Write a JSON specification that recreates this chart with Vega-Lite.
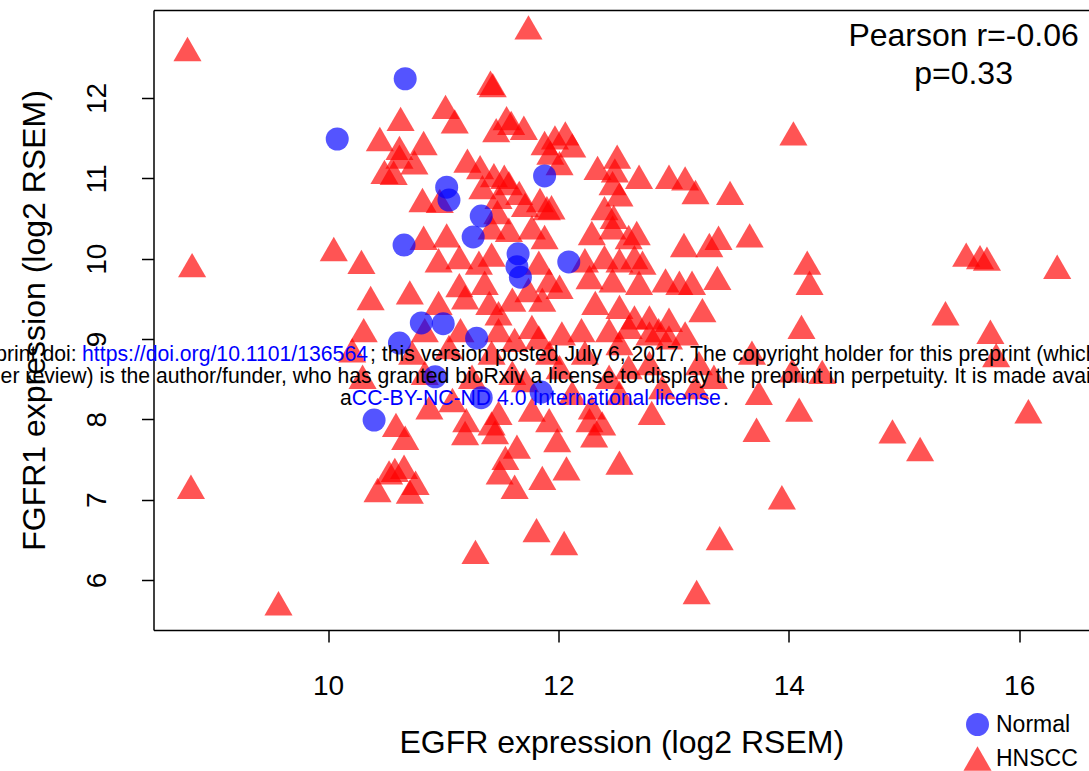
{
  "$schema": "https://vega.github.io/schema/vega-lite/v6.json",
  "width": 935.5,
  "height": 620,
  "autosize": {"type": "none"},
  "padding": {"left": 153.5, "top": 10, "right": 0, "bottom": 141},
  "background": "white",
  "config": {"view": {"stroke": null}, "font": "Liberation Sans"},
  "datasets": {
    "pts": [
      {"type":"HNSCC","egfr":8.78,"fgfr1":12.61},{"type":"HNSCC","egfr":8.82,"fgfr1":9.92},{"type":"HNSCC","egfr":8.81,"fgfr1":7.16},{"type":"HNSCC","egfr":9.57,"fgfr1":5.71},
      {"type":"HNSCC","egfr":10.05,"fgfr1":10.12},{"type":"HNSCC","egfr":10.29,"fgfr1":9.96},{"type":"HNSCC","egfr":10.37,"fgfr1":9.51},{"type":"HNSCC","egfr":10.31,"fgfr1":9.11},
      {"type":"HNSCC","egfr":10.45,"fgfr1":11.49},{"type":"HNSCC","egfr":10.49,"fgfr1":11.08},{"type":"HNSCC","egfr":10.63,"fgfr1":11.74},{"type":"HNSCC","egfr":10.62,"fgfr1":11.38},
      {"type":"HNSCC","egfr":10.83,"fgfr1":11.44},{"type":"HNSCC","egfr":10.75,"fgfr1":11.20},{"type":"HNSCC","egfr":10.62,"fgfr1":11.27},{"type":"HNSCC","egfr":10.57,"fgfr1":11.07},
      {"type":"HNSCC","egfr":10.82,"fgfr1":10.73},{"type":"HNSCC","egfr":11.02,"fgfr1":11.89},{"type":"HNSCC","egfr":11.10,"fgfr1":11.71},{"type":"HNSCC","egfr":11.41,"fgfr1":12.19},
      {"type":"HNSCC","egfr":11.43,"fgfr1":12.16},{"type":"HNSCC","egfr":11.74,"fgfr1":12.88},{"type":"HNSCC","egfr":11.55,"fgfr1":11.75},{"type":"HNSCC","egfr":11.59,"fgfr1":11.69},
      {"type":"HNSCC","egfr":11.46,"fgfr1":11.60},{"type":"HNSCC","egfr":11.70,"fgfr1":11.63},{"type":"HNSCC","egfr":11.88,"fgfr1":11.44},{"type":"HNSCC","egfr":11.93,"fgfr1":11.32},
      {"type":"HNSCC","egfr":11.21,"fgfr1":11.22},{"type":"HNSCC","egfr":11.32,"fgfr1":11.14},{"type":"HNSCC","egfr":11.44,"fgfr1":11.04},{"type":"HNSCC","egfr":11.53,"fgfr1":11.02},
      {"type":"HNSCC","egfr":11.34,"fgfr1":10.89},{"type":"HNSCC","egfr":11.57,"fgfr1":10.94},{"type":"HNSCC","egfr":11.48,"fgfr1":10.77},{"type":"HNSCC","egfr":11.66,"fgfr1":10.82},
      {"type":"HNSCC","egfr":11.71,"fgfr1":10.67},{"type":"HNSCC","egfr":11.84,"fgfr1":10.73},{"type":"HNSCC","egfr":11.90,"fgfr1":10.63},{"type":"HNSCC","egfr":11.47,"fgfr1":10.58},
      {"type":"HNSCC","egfr":11.97,"fgfr1":11.51},{"type":"HNSCC","egfr":12.06,"fgfr1":11.56},{"type":"HNSCC","egfr":12.12,"fgfr1":11.41},{"type":"HNSCC","egfr":12.01,"fgfr1":11.19},
      {"type":"HNSCC","egfr":12.34,"fgfr1":11.13},{"type":"HNSCC","egfr":12.51,"fgfr1":11.27},{"type":"HNSCC","egfr":12.49,"fgfr1":11.10},{"type":"HNSCC","egfr":12.47,"fgfr1":10.94},
      {"type":"HNSCC","egfr":12.53,"fgfr1":10.80},{"type":"HNSCC","egfr":12.70,"fgfr1":11.02},{"type":"HNSCC","egfr":12.96,"fgfr1":11.02},{"type":"HNSCC","egfr":13.10,"fgfr1":11.00},
      {"type":"HNSCC","egfr":13.19,"fgfr1":10.83},{"type":"HNSCC","egfr":12.40,"fgfr1":10.63},{"type":"HNSCC","egfr":12.48,"fgfr1":10.52},{"type":"HNSCC","egfr":11.94,"fgfr1":10.64},
      {"type":"HNSCC","egfr":14.04,"fgfr1":11.56},{"type":"HNSCC","egfr":13.49,"fgfr1":10.82},{"type":"HNSCC","egfr":10.97,"fgfr1":10.72},
      {"type":"HNSCC","egfr":10.83,"fgfr1":10.26},{"type":"HNSCC","egfr":11.03,"fgfr1":10.29},{"type":"HNSCC","egfr":11.42,"fgfr1":10.39},{"type":"HNSCC","egfr":11.57,"fgfr1":10.36},
      {"type":"HNSCC","egfr":11.77,"fgfr1":10.39},{"type":"HNSCC","egfr":11.88,"fgfr1":10.27},{"type":"HNSCC","egfr":10.96,"fgfr1":9.98},{"type":"HNSCC","egfr":11.14,"fgfr1":10.02},
      {"type":"HNSCC","egfr":11.31,"fgfr1":9.95},{"type":"HNSCC","egfr":11.42,"fgfr1":10.05},{"type":"HNSCC","egfr":11.83,"fgfr1":9.95},{"type":"HNSCC","egfr":10.71,"fgfr1":9.58},
      {"type":"HNSCC","egfr":10.96,"fgfr1":9.45},{"type":"HNSCC","egfr":11.14,"fgfr1":9.67},{"type":"HNSCC","egfr":11.19,"fgfr1":9.52},{"type":"HNSCC","egfr":11.36,"fgfr1":9.70},
      {"type":"HNSCC","egfr":11.40,"fgfr1":9.45},{"type":"HNSCC","egfr":11.48,"fgfr1":9.32},{"type":"HNSCC","egfr":11.60,"fgfr1":9.49},{"type":"HNSCC","egfr":11.74,"fgfr1":9.61},
      {"type":"HNSCC","egfr":11.86,"fgfr1":9.49},{"type":"HNSCC","egfr":11.92,"fgfr1":9.73},{"type":"HNSCC","egfr":10.84,"fgfr1":9.11},{"type":"HNSCC","egfr":11.15,"fgfr1":9.11},
      {"type":"HNSCC","egfr":11.48,"fgfr1":9.11},{"type":"HNSCC","egfr":11.62,"fgfr1":8.99},{"type":"HNSCC","egfr":11.77,"fgfr1":9.15},{"type":"HNSCC","egfr":11.83,"fgfr1":9.02},
      {"type":"HNSCC","egfr":11.05,"fgfr1":8.90},{"type":"HNSCC","egfr":10.73,"fgfr1":8.83},{"type":"HNSCC","egfr":11.42,"fgfr1":8.83},{"type":"HNSCC","egfr":11.92,"fgfr1":8.83},
      {"type":"HNSCC","egfr":10.84,"fgfr1":8.58},{"type":"HNSCC","egfr":11.25,"fgfr1":8.53},{"type":"HNSCC","egfr":11.60,"fgfr1":8.58},{"type":"HNSCC","egfr":11.71,"fgfr1":8.49},
      {"type":"HNSCC","egfr":10.88,"fgfr1":8.15},{"type":"HNSCC","egfr":11.08,"fgfr1":8.24},{"type":"HNSCC","egfr":11.48,"fgfr1":8.08},{"type":"HNSCC","egfr":11.77,"fgfr1":8.12},
      {"type":"HNSCC","egfr":11.92,"fgfr1":7.99},{"type":"HNSCC","egfr":11.42,"fgfr1":7.95},
      {"type":"HNSCC","egfr":12.29,"fgfr1":10.32},{"type":"HNSCC","egfr":12.47,"fgfr1":10.39},{"type":"HNSCC","egfr":12.61,"fgfr1":10.27},{"type":"HNSCC","egfr":12.68,"fgfr1":10.32},
      {"type":"HNSCC","egfr":13.09,"fgfr1":10.17},{"type":"HNSCC","egfr":13.31,"fgfr1":10.17},{"type":"HNSCC","egfr":12.23,"fgfr1":9.98},{"type":"HNSCC","egfr":12.40,"fgfr1":10.02},
      {"type":"HNSCC","egfr":12.53,"fgfr1":9.98},{"type":"HNSCC","egfr":12.66,"fgfr1":10.02},{"type":"HNSCC","egfr":12.73,"fgfr1":9.95},{"type":"HNSCC","egfr":12.93,"fgfr1":9.73},
      {"type":"HNSCC","egfr":13.05,"fgfr1":9.70},{"type":"HNSCC","egfr":13.16,"fgfr1":9.70},{"type":"HNSCC","egfr":12.70,"fgfr1":9.70},{"type":"HNSCC","egfr":12.47,"fgfr1":9.73},
      {"type":"HNSCC","egfr":12.27,"fgfr1":9.77},{"type":"HNSCC","egfr":12.01,"fgfr1":9.65},{"type":"HNSCC","egfr":12.32,"fgfr1":9.45},{"type":"HNSCC","egfr":12.53,"fgfr1":9.40},
      {"type":"HNSCC","egfr":12.66,"fgfr1":9.27},{"type":"HNSCC","egfr":12.79,"fgfr1":9.27},{"type":"HNSCC","egfr":12.96,"fgfr1":9.24},{"type":"HNSCC","egfr":13.25,"fgfr1":9.36},
      {"type":"HNSCC","egfr":12.03,"fgfr1":9.07},{"type":"HNSCC","egfr":12.20,"fgfr1":9.11},{"type":"HNSCC","egfr":12.44,"fgfr1":9.11},{"type":"HNSCC","egfr":12.61,"fgfr1":9.15},
      {"type":"HNSCC","egfr":12.79,"fgfr1":9.07},{"type":"HNSCC","egfr":12.87,"fgfr1":9.11},{"type":"HNSCC","egfr":12.96,"fgfr1":9.02},{"type":"HNSCC","egfr":13.10,"fgfr1":9.07},
      {"type":"HNSCC","egfr":12.53,"fgfr1":8.95},{"type":"HNSCC","egfr":12.23,"fgfr1":8.83},{"type":"HNSCC","egfr":12.61,"fgfr1":8.65},{"type":"HNSCC","egfr":12.79,"fgfr1":8.70},
      {"type":"HNSCC","egfr":13.22,"fgfr1":8.70},{"type":"HNSCC","egfr":12.01,"fgfr1":8.65},{"type":"HNSCC","egfr":12.44,"fgfr1":8.53},{"type":"HNSCC","egfr":12.12,"fgfr1":8.33},
      {"type":"HNSCC","egfr":12.53,"fgfr1":8.33},{"type":"HNSCC","egfr":12.90,"fgfr1":8.40},{"type":"HNSCC","egfr":13.19,"fgfr1":8.40},{"type":"HNSCC","egfr":12.29,"fgfr1":8.15},
      {"type":"HNSCC","egfr":12.81,"fgfr1":8.08},{"type":"HNSCC","egfr":12.27,"fgfr1":7.99},{"type":"HNSCC","egfr":12.38,"fgfr1":7.95},
      {"type":"HNSCC","egfr":13.39,"fgfr1":10.26},{"type":"HNSCC","egfr":13.66,"fgfr1":10.29},{"type":"HNSCC","egfr":14.16,"fgfr1":9.95},{"type":"HNSCC","egfr":14.18,"fgfr1":9.70},
      {"type":"HNSCC","egfr":13.38,"fgfr1":9.76},{"type":"HNSCC","egfr":14.11,"fgfr1":9.15},{"type":"HNSCC","egfr":13.68,"fgfr1":8.83},{"type":"HNSCC","egfr":14.03,"fgfr1":8.61},
      {"type":"HNSCC","egfr":14.29,"fgfr1":8.59},{"type":"HNSCC","egfr":13.35,"fgfr1":8.53},{"type":"HNSCC","egfr":13.74,"fgfr1":8.33},{"type":"HNSCC","egfr":14.09,"fgfr1":8.12},
      {"type":"HNSCC","egfr":13.72,"fgfr1":7.87},{"type":"HNSCC","egfr":13.94,"fgfr1":7.03},{"type":"HNSCC","egfr":13.40,"fgfr1":6.52},
      {"type":"HNSCC","egfr":12.31,"fgfr1":7.80},{"type":"HNSCC","egfr":11.99,"fgfr1":7.74},{"type":"HNSCC","egfr":12.07,"fgfr1":7.39},{"type":"HNSCC","egfr":12.53,"fgfr1":7.46},
      {"type":"HNSCC","egfr":12.05,"fgfr1":6.46},{"type":"HNSCC","egfr":13.20,"fgfr1":5.85},
      {"type":"HNSCC","egfr":11.19,"fgfr1":7.83},{"type":"HNSCC","egfr":11.45,"fgfr1":7.84},{"type":"HNSCC","egfr":10.67,"fgfr1":7.77},{"type":"HNSCC","egfr":11.64,"fgfr1":7.66},
      {"type":"HNSCC","egfr":11.54,"fgfr1":7.52},{"type":"HNSCC","egfr":11.49,"fgfr1":7.34},{"type":"HNSCC","egfr":11.62,"fgfr1":7.16},{"type":"HNSCC","egfr":11.86,"fgfr1":7.27},
      {"type":"HNSCC","egfr":10.58,"fgfr1":7.37},{"type":"HNSCC","egfr":10.66,"fgfr1":7.41},{"type":"HNSCC","egfr":10.76,"fgfr1":7.21},{"type":"HNSCC","egfr":10.71,"fgfr1":7.10},
      {"type":"HNSCC","egfr":11.81,"fgfr1":6.62},{"type":"HNSCC","egfr":11.28,"fgfr1":6.35},
      {"type":"HNSCC","egfr":10.21,"fgfr1":8.86},{"type":"HNSCC","egfr":10.30,"fgfr1":8.53},{"type":"HNSCC","egfr":10.53,"fgfr1":7.34},{"type":"HNSCC","egfr":10.43,"fgfr1":7.12},
      {"type":"HNSCC","egfr":10.59,"fgfr1":7.93},
      {"type":"HNSCC","egfr":15.54,"fgfr1":10.05},{"type":"HNSCC","egfr":15.66,"fgfr1":10.02},{"type":"HNSCC","egfr":15.72,"fgfr1":10.00},{"type":"HNSCC","egfr":16.33,"fgfr1":9.90},
      {"type":"HNSCC","egfr":15.36,"fgfr1":9.32},{"type":"HNSCC","egfr":15.75,"fgfr1":9.09},{"type":"HNSCC","egfr":15.80,"fgfr1":8.80},{"type":"HNSCC","egfr":16.08,"fgfr1":8.10},
      {"type":"HNSCC","egfr":14.90,"fgfr1":7.85},{"type":"HNSCC","egfr":15.14,"fgfr1":7.63},{"type":"HNSCC","egfr":11.20,"fgfr1":7.99},
      {"type":"Normal","egfr":10.67,"fgfr1":12.24},{"type":"Normal","egfr":10.08,"fgfr1":11.49},{"type":"Normal","egfr":11.03,"fgfr1":10.89},{"type":"Normal","egfr":11.05,"fgfr1":10.73},
      {"type":"Normal","egfr":11.33,"fgfr1":10.53},{"type":"Normal","egfr":11.26,"fgfr1":10.27},{"type":"Normal","egfr":11.88,"fgfr1":11.03},{"type":"Normal","egfr":10.66,"fgfr1":10.17},
      {"type":"Normal","egfr":11.65,"fgfr1":10.06},{"type":"Normal","egfr":11.64,"fgfr1":9.90},{"type":"Normal","egfr":11.67,"fgfr1":9.77},{"type":"Normal","egfr":12.09,"fgfr1":9.96},
      {"type":"Normal","egfr":10.81,"fgfr1":9.20},{"type":"Normal","egfr":11.00,"fgfr1":9.19},{"type":"Normal","egfr":10.62,"fgfr1":8.95},{"type":"Normal","egfr":11.29,"fgfr1":9.01},
      {"type":"Normal","egfr":10.93,"fgfr1":8.53},{"type":"Normal","egfr":11.85,"fgfr1":8.34},{"type":"Normal","egfr":10.40,"fgfr1":7.99},{"type":"Normal","egfr":11.33,"fgfr1":8.27}
    ],
    "notes": [
      {"kind":"center","egfr":15.517,"fgfr1":12.647,"label":"Pearson r=-0.06"},
      {"kind":"center","egfr":15.517,"fgfr1":12.174,"label":"p=0.33"},
      {"kind":"right","egfr":7.817,"fgfr1":8.726,"label":"bioRxiv preprint doi:"},
      {"kind":"blue","egfr":7.865,"fgfr1":8.726,"label":"https://doi.org/10.1101/136564"},
      {"kind":"left","egfr":10.365,"fgfr1":8.726,"label":"; this version posted July 6, 2017. The copyright holder for this preprint (which was not"},
      {"kind":"right","egfr":8.456,"fgfr1":8.452,"label":"certified by peer review) is the"},
      {"kind":"left","egfr":8.507,"fgfr1":8.452,"label":"author/funder, who has granted bioRxiv a license to display the preprint in perpetuity. It is made available under"},
      {"kind":"left","egfr":10.104,"fgfr1":8.178,"label":"a"},
      {"kind":"blue","egfr":10.207,"fgfr1":8.178,"label":"CC-BY-NC-ND 4.0 International license"},
      {"kind":"left","egfr":13.428,"fgfr1":8.178,"label":"."}
    ]
  },
  "layer": [
    {
      "data": {"name": "pts"},
      "mark": {"type": "point", "filled": true, "opacity": 0.67, "strokeWidth": 0},
      "encoding": {
        "x": {"field": "egfr", "type": "quantitative",
          "scale": {"domain": [8.485, 16.606], "nice": false, "zero": false},
          "axis": {"values": [10, 12, 14, 16], "format": "d", "title": "EGFR expression (log2 RSEM)", "grid": false,
            "domainColor": "black", "domainWidth": 1.5, "tickColor": "black", "tickWidth": 1.5, "tickSize": 12,
            "labelFont": "Liberation Sans", "labelFontSize": 28, "labelColor": "black", "labelPadding": 30,
            "titleFont": "Liberation Sans", "titleFontSize": 32, "titleFontWeight": "normal", "titleColor": "black", "titlePadding": 27}},
        "y": {"field": "fgfr1", "type": "quantitative",
          "scale": {"domain": [5.377, 13.096], "nice": false, "zero": false},
          "axis": {"values": [6, 7, 8, 9, 10, 11, 12], "format": "d", "title": "FGFR1 expression (log2 RSEM)", "grid": false,
            "domainColor": "black", "domainWidth": 1.5, "tickColor": "black", "tickWidth": 1.5, "tickSize": 12,
            "labelFont": "Liberation Sans", "labelFontSize": 28, "labelColor": "black", "labelPadding": 30,
            "labelAngle": 270, "labelAlign": "center", "labelBaseline": "bottom",
            "titleFont": "Liberation Sans", "titleFontSize": 32, "titleFontWeight": "normal", "titleColor": "black", "titlePadding": 32}},
        "color": {"field": "type", "type": "nominal",
          "scale": {"domain": ["Normal", "HNSCC"], "range": ["#0000FF", "#FF0000"]},
          "legend": {"orient": "none", "legendX": 809.5, "legendY": 703, "title": null, "padding": 0,
            "labelFont": "Liberation Sans", "labelFontSize": 23, "labelColor": "black", "labelOffset": 4,
            "rowPadding": 7, "symbolOpacity": 0.67, "symbolStrokeWidth": 0}},
        "shape": {"field": "type", "type": "nominal",
          "scale": {"domain": ["Normal", "HNSCC"], "range": ["circle", "triangle-up"]},
          "legend": {"orient": "none", "legendX": 809.5, "legendY": 703, "title": null, "padding": 0,
            "labelFont": "Liberation Sans", "labelFontSize": 23, "labelColor": "black", "labelOffset": 4,
            "rowPadding": 7, "symbolOpacity": 0.67, "symbolStrokeWidth": 0}},
        "size": {"field": "type", "type": "nominal",
          "scale": {"type": "ordinal", "domain": ["Normal", "HNSCC"], "range": [529, 790]},
          "legend": {"orient": "none", "legendX": 809.5, "legendY": 703, "title": null, "padding": 0,
            "labelFont": "Liberation Sans", "labelFontSize": 23, "labelColor": "black", "labelOffset": 4,
            "rowPadding": 7, "symbolOpacity": 0.67, "symbolStrokeWidth": 0}}
      }
    },
    {
      "data": {"name": "pts"},
      "mark": {"type": "point", "opacity": 0},
      "encoding": {
        "x": {"field": "egfr", "type": "quantitative",
          "scale": {"domain": [8.485, 16.606], "nice": false, "zero": false},
          "axis": {"orient": "top", "labels": false, "ticks": false, "title": null, "grid": false,
            "domainColor": "black", "domainWidth": 1.5}},
        "y": {"field": "fgfr1", "type": "quantitative",
          "scale": {"domain": [5.377, 13.096], "nice": false, "zero": false}}
      }
    },
    {
      "data": {"name": "notes"},
      "transform": [{"filter": "datum.kind === 'center'"}],
      "mark": {"type": "text", "align": "center", "baseline": "alphabetic", "font": "Liberation Sans", "fontSize": 32, "color": "black"},
      "encoding": {
        "x": {"field": "egfr", "type": "quantitative", "scale": {"domain": [8.485, 16.606], "nice": false, "zero": false}, "axis": null},
        "y": {"field": "fgfr1", "type": "quantitative", "scale": {"domain": [5.377, 13.096], "nice": false, "zero": false}},
        "text": {"field": "label"}
      }
    },
    {
      "data": {"name": "notes"},
      "transform": [{"filter": "datum.kind === 'left'"}],
      "mark": {"type": "text", "align": "left", "baseline": "alphabetic", "font": "Liberation Sans", "fontSize": 21.2, "color": "black"},
      "encoding": {
        "x": {"field": "egfr", "type": "quantitative", "scale": {"domain": [8.485, 16.606], "nice": false, "zero": false}, "axis": null},
        "y": {"field": "fgfr1", "type": "quantitative", "scale": {"domain": [5.377, 13.096], "nice": false, "zero": false}},
        "text": {"field": "label"}
      }
    },
    {
      "data": {"name": "notes"},
      "transform": [{"filter": "datum.kind === 'right'"}],
      "mark": {"type": "text", "align": "right", "baseline": "alphabetic", "font": "Liberation Sans", "fontSize": 21.2, "color": "black"},
      "encoding": {
        "x": {"field": "egfr", "type": "quantitative", "scale": {"domain": [8.485, 16.606], "nice": false, "zero": false}, "axis": null},
        "y": {"field": "fgfr1", "type": "quantitative", "scale": {"domain": [5.377, 13.096], "nice": false, "zero": false}},
        "text": {"field": "label"}
      }
    },
    {
      "data": {"name": "notes"},
      "transform": [{"filter": "datum.kind === 'blue'"}],
      "mark": {"type": "text", "align": "left", "baseline": "alphabetic", "font": "Liberation Sans", "fontSize": 21.2, "color": "#0000FF"},
      "encoding": {
        "x": {"field": "egfr", "type": "quantitative", "scale": {"domain": [8.485, 16.606], "nice": false, "zero": false}, "axis": null},
        "y": {"field": "fgfr1", "type": "quantitative", "scale": {"domain": [5.377, 13.096], "nice": false, "zero": false}},
        "text": {"field": "label"}
      }
    }
  ],
  "resolve": {"axis": {"x": "independent"}}
}
